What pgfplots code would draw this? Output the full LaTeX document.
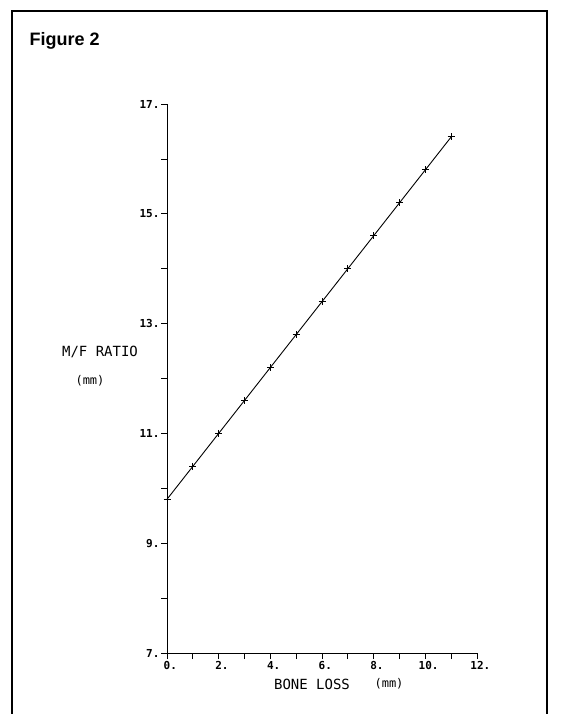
\documentclass[border=0pt]{standalone}
\usepackage{pgfplots}
\pgfplotsset{compat=1.18}
\usepackage{fontspec}
\setmainfont{Liberation Sans}
\newfontfamily\plotfont{DejaVu Sans Mono}

\begin{document}
\begin{tikzpicture}[x=1pt,y=1pt]
  \useasboundingbox (0,0) rectangle (561,-714);
  % frame round the figure
  \draw[line width=2.5pt] (12,-714) -- (12,-11) -- (547,-11) -- (547,-714);
  \node[anchor=west,font=\bfseries\fontsize{18}{21}\selectfont] at (26,-41) {Figure 2};

  \begin{axis}[
      scale only axis,
      width=310pt, height=549pt,
      at={(167pt,-653pt)}, anchor=south west,
      xmin=0, xmax=12, ymin=7, ymax=17,
      axis lines=left,
      axis line style={-, line width=1pt},
      xtick={0,2,...,12},
      xticklabels={0\rlap{.},2\rlap{.},4\rlap{.},6\rlap{.},8\rlap{.},10\rlap{.},12\rlap{.}},
      ytick={7,9,...,17},
      yticklabels={7.,9.,11.,13.,15.,17.},
      minor tick num=1,
      tick align=outside,
      major tick length=6pt, minor tick length=6pt,
      tick style={black, line width=0.8pt},
      ticklabel style={font=\plotfont\bfseries\fontsize{11}{13}\selectfont},
      xticklabel style={yshift=1pt},
      yticklabel style={xshift=2pt},
      clip=false,
    ]
    \addplot[black, line width=0.9pt, mark=+, mark size=3.5pt,
             mark options={line width=1pt}]
      coordinates {
        (0,9.8)(1,10.4)(2,11.0)(3,11.6)(4,12.2)(5,12.8)
        (6,13.4)(7,14.0)(8,14.6)(9,15.2)(10,15.8)(11,16.4)
      };
  \end{axis}

  \node[font=\plotfont\fontsize{14}{16}\selectfont] at (312,-684) {BONE LOSS};
  \node[font=\plotfont\fontsize{12}{14}\selectfont] at (389,-684) {(mm)};
  \node[font=\plotfont\fontsize{14}{16}\selectfont] at (100,-352) {M/F RATIO};
  \node[font=\plotfont\fontsize{12}{14}\selectfont] at (90,-381) {(mm)};
\end{tikzpicture}
\end{document}
